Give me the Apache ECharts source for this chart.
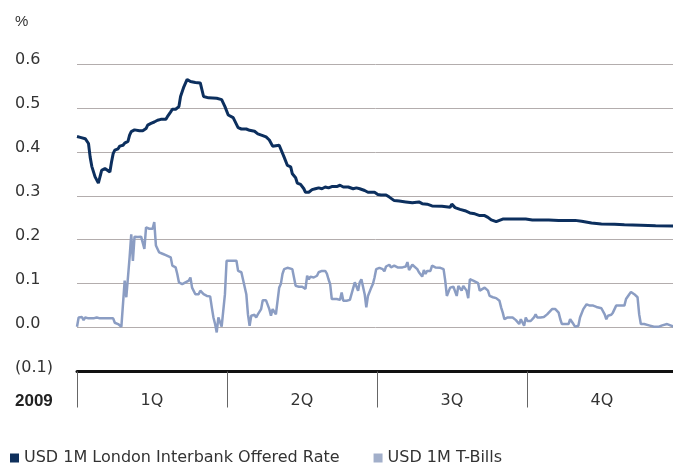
<!DOCTYPE html>
<html>
<head>
<meta charset="utf-8">
<script src="https://cdn.jsdelivr.net/npm/echarts/dist/echarts.min.js"></script>
<style>
html,body{margin:0;padding:0;background:#fff;}
#main{width:673px;height:465px;}
</style>
</head>
<body>
<div id="main"></div>
<script>
// quarters on the bottom axis, day of year (0-365) for the data points
var quarters = ['1Q', '2Q', '3Q', '4Q'];
var yearLabel = '2009';
var unitLabel = '%';
var liborName = 'USD 1M London Interbank Offered Rate';
var tbillName = 'USD 1M T-Bills';

var liborDays = [0,2,5,7,8,9,10,11,13,14,15,17,18,20,21,22,23,25,26,28,29,31,32,33,35,38,40,42,43,45,47,49,51,54,55,57,58,60,
  62,63,65,66,67,68,69,72,75,77,80,85,88,90,92,95,98,100,103,105,108,110,113,115,117,119,120,
  123,124,126,128,130,131,133,134,136,138,139,141,143,145,147,149,151,153,155,158,160,162,165,168,170,172,175,177,181,
  183,185,188,190,193,196,200,204,208,210,213,216,222,227,228,230,233,236,239,242,
  245,248,250,252,255,257,259,264,273,277,283,287,293,299,303,
  307,313,319,327,333,343,352,363];
var liborVals = [0.435,0.433,0.430,0.419,0.388,0.367,0.366,0.343,0.329,0.331,0.358,0.362,0.358,0.354,0.377,0.396,0.404,0.407,0.413,0.415,0.420,0.424,0.438,0.446,0.450,0.448,0.448,0.453,0.461,0.465,0.468,0.472,0.474,0.474,0.480,0.491,0.497,0.497,
  0.503,0.526,0.548,0.550,0.565,0.567,0.560,0.558,0.557,0.526,0.523,0.522,0.519,0.503,0.484,0.478,0.455,0.452,0.452,0.449,0.447,0.441,0.437,0.434,0.427,0.413,0.410,
  0.415,0.411,0.388,0.369,0.366,0.350,0.341,0.329,0.326,0.316,0.308,0.308,0.314,0.316,0.318,0.316,0.320,0.318,0.321,0.321,0.324,0.320,0.320,0.316,0.318,0.316,0.312,0.308,0.308,
  0.303,0.302,0.302,0.297,0.289,0.288,0.286,0.284,0.286,0.282,0.281,0.277,0.276,0.274,0.281,0.273,0.269,0.266,0.261,0.259,
  0.255,0.255,0.251,0.245,0.241,0.244,0.247,0.247,0.247,0.245,0.245,0.245,0.244,0.244,0.244,
  0.242,0.238,0.236,0.235,0.234,0.233,0.232,0.231];

var tbillDays = [0,1,3,4,5,7,10,12,14,19,22,23,25,27,28,29,30,31,32,33,34,35,37,39,40,41,42,44,46,47,48,50,52,54,55,57,58,60,
  61,62,64,66,68,69,70,72,74,75,77,79,81,82,83,84,85,86,87,88,89,90,91,92,94,97,98,100,101,103,104,105,106,108,109,110,112,113,115,117,118,119,120,
  121,122,123,124,125,126,128,131,132,133,135,137,138,139,140,141,142,144,146,147,149,150,151,152,153,154,155,158,160,161,162,164,166,167,169,170,171,172,173,175,176,177,179,180,181,
  182,184,186,187,188,190,191,193,195,198,200,201,202,204,205,207,208,210,211,212,213,215,216,218,221,223,224,225,227,229,231,232,234,235,237,238,239,241,242,
  244,245,246,248,249,250,251,253,255,256,257,258,259,260,261,262,263,265,267,268,269,270,271,272,273,274,276,278,279,280,282,284,286,289,291,293,294,295,297,299,300,302,303,
  305,306,308,310,312,314,316,319,321,322,323,325,326,328,329,331,333,334,336,337,339,340,341,342,343,345,348,351,354,356,359,361,363];
var tbillVals = [0.002,0.023,0.024,0.017,0.023,0.021,0.021,0.023,0.021,0.021,0.021,0.011,0.008,0.002,0.002,0.107,0.069,0.069,0.160,0.212,0.152,0.207,0.206,0.207,0.209,0.179,0.228,0.225,0.225,0.240,0.187,0.171,0.168,0.165,0.169,0.160,0.141,0.137,
  0.122,0.103,0.099,0.103,0.107,0.114,0.091,0.076,0.076,0.084,0.076,0.072,0.071,0.046,0.023,0.008,-0.011,0.023,0.019,0.002,0.002,0.076,0.152,0.156,0.152,0.152,0.129,0.126,0.122,0.076,0.030,0.004,0.027,0.029,0.023,0.030,0.042,0.062,0.062,0.042,0.027,0.042,0.042,
  0.030,0.030,0.091,0.099,0.122,0.133,0.136,0.133,0.129,0.095,0.093,0.093,0.091,0.088,0.118,0.110,0.116,0.114,0.118,0.126,0.129,0.131,0.129,0.123,0.110,0.099,0.065,0.065,0.063,0.080,0.061,0.061,0.063,0.063,0.103,0.099,0.084,0.103,0.110,0.076,0.046,0.072,0.091,0.099,0.114,
  0.133,0.136,0.133,0.128,0.139,0.143,0.137,0.141,0.137,0.137,0.139,0.149,0.131,0.143,0.141,0.133,0.126,0.116,0.131,0.122,0.129,0.129,0.141,0.137,0.136,0.133,0.107,0.072,0.091,0.093,0.072,0.095,0.084,0.095,0.084,0.067,0.110,0.107,0.107,
  0.101,0.084,0.088,0.091,0.091,0.084,0.072,0.069,0.067,0.067,0.061,0.046,0.034,0.019,0.015,0.023,0.019,0.023,0.017,0.017,0.008,0.019,0.019,0.004,0.023,0.015,0.015,0.023,0.030,0.023,0.023,0.024,0.030,0.042,0.042,0.034,0.019,0.008,0.008,0.008,0.019,0.008,0.002,
  0.004,0.023,0.042,0.053,0.050,0.050,0.047,0.044,0.030,0.019,0.027,0.029,0.034,0.050,0.053,0.050,0.050,0.065,0.076,0.081,0.076,0.072,0.069,0.030,0.008,0.008,0.005,0.002,0.002,0.005,0.008,0.005,0.002];

function pairs(xs, ys) {
  var out = [];
  for (var i = 0; i < xs.length; i++) out.push([xs[i], ys[i]]);
  return out;
}

var font = 'DejaVu Sans';
var chart = echarts.init(document.getElementById('main'));

var option = {
  animation: false,
  textStyle: {fontFamily: font},
  title: [
    {text: unitLabel, left: 15, top: 14, padding: 0,
     textStyle: {fontSize: 15, fontWeight: 'normal', color: '#333', fontFamily: 'Liberation Sans'}},
    {text: yearLabel, left: 15, top: 393, padding: 0,
     textStyle: {fontSize: 17, fontWeight: 'bold', color: '#222', fontFamily: 'Liberation Sans'}}
  ],
  legend: {
    left: 10,
    top: 450,
    padding: 0,
    icon: 'rect',
    itemWidth: 9,
    itemHeight: 9,
    itemGap: 34,
    textStyle: {fontSize: 16, color: '#333', fontFamily: font},
    data: [
      {name: liborName, itemStyle: {color: '#0f305c'}},
      {name: tbillName, itemStyle: {color: '#a2afca'}}
    ]
  },
  grid: {left: 77, top: 64, width: 600, height: 307.5, outerBoundsMode: 'none'},
  xAxis: [
    {
      type: 'category',
      data: quarters,
      position: 'bottom',
      boundaryGap: true,
      axisLine: {onZero: false, lineStyle: {color: '#111', width: 3}},
      axisTick: {show: true, interval: 0, length: 36, lineStyle: {color: '#666', width: 1}},
      axisLabel: {margin: 21, fontSize: 16, color: '#333', fontFamily: font},
      splitLine: {show: false}
    },
    {type: 'value', min: 0, max: 365, show: false}
  ],
  yAxis: {
    type: 'value',
    min: -0.1,
    max: 0.6,
    interval: 0.1,
    axisLine: {show: false},
    axisTick: {show: false},
    splitLine: {lineStyle: {color: '#b3adad', width: 1}},
    axisLabel: {
      align: 'left',
      verticalAlign: 'bottom',
      lineHeight: 8,
      margin: 62,
      fontSize: 16,
      color: '#333',
      fontFamily: font,
      formatter: function (v) {
        return v < 0 ? '(' + Math.abs(v).toFixed(1) + ')' : v.toFixed(1);
      }
    }
  },
  series: [
    {
      name: tbillName,
      type: 'line',
      xAxisIndex: 1,
      symbol: 'none',
      z: 2,
      color: '#8b9dc3',
      lineStyle: {width: 2.5, color: '#8b9dc3'},
      data: pairs(tbillDays, tbillVals)
    },
    {
      name: liborName,
      type: 'line',
      xAxisIndex: 1,
      symbol: 'none',
      z: 3,
      color: '#0c2f5e',
      lineStyle: {width: 3, color: '#0c2f5e'},
      data: pairs(liborDays, liborVals)
    }
  ]
};

chart.setOption(option);
</script>
</body>
</html>
